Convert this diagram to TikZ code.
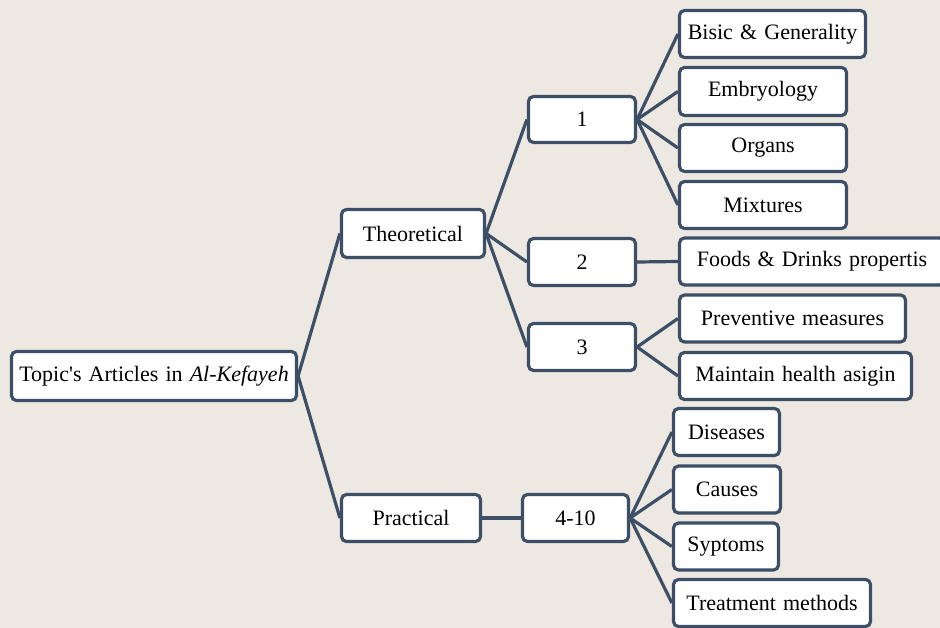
\documentclass[tikz,border=0pt]{standalone}
\usepackage{fontspec}
\setmainfont{Liberation Serif}[WordSpace=1.3]
\newfontfamily\plainserif{Liberation Serif}
\definecolor{bgc}{RGB}{237,233,226}
\definecolor{edgec}{RGB}{61,79,103}
\begin{document}
\begin{tikzpicture}[x=1pt,y=-1pt,
  box/.style={draw=edgec,fill=white,line width=3.2pt,rounded corners=5pt,
    inner sep=0pt,minimum height=#1,font=\fontsize{22}{24}\selectfont},
  box/.default=47pt,
  link/.style={draw=edgec,line width=3.2pt}]
\fill[bgc] (0,0) rectangle (940,628);
\useasboundingbox (0,0) rectangle (940,628);
% nodes
\node[box=49pt,minimum width=285pt] (root) at (154,376) {Topic{\plainserif '}s Articles in \textit{Al-Kefayeh}};
\node[box=48pt,minimum width=143pt] (theo) at (413,233.5) {Theoretical};
\node[box,minimum width=139pt] (prac) at (411,518) {Practical};
\node[box=46pt,minimum width=107pt] (n1) at (582,119.5) {1};
\node[box,minimum width=107pt] (n2) at (582,262) {2};
\node[box,minimum width=107pt] (n3) at (582,347) {3};
\node[box,minimum width=106pt] (n4) at (575.5,518) {4-10};
\node[box,minimum width=186pt] (bis) at (772.5,34) {Bisic \& Generality};
\node[box=48pt,minimum width=167pt] (emb) at (763,91.5) {Embryology};
\node[box,minimum width=167pt] (org) at (763,148) {Organs};
\node[box,minimum width=167pt] (mix) at (763,205) {Mixtures};
\node[box,minimum width=265pt] (food) at (812,261.5) {Foods \& Drinks propertis};
\node[box,minimum width=226pt] (prev) at (792.5,318.5) {Preventive measures};
\node[box,minimum width=232pt] (main) at (795.5,376) {Maintain health asigin};
\node[box,minimum width=106pt] (dis) at (726.5,432) {Diseases};
\node[box,minimum width=107pt] (cau) at (727,489.5) {Causes};
\node[box,minimum width=105pt] (syp) at (726,546.5) {Syptoms};
\node[box,minimum width=197pt] (tre) at (772,603) {Treatment methods};
% connectors
\foreach \a/\b in {root/theo,root/prac,theo/n1,theo/n2,theo/n3,prac/n4,
  n1/bis,n1/emb,n1/org,n1/mix,n2/food,n3/prev,n3/main,
  n4/dis,n4/cau,n4/syp,n4/tre}
  \draw[link] (\a.east) -- (\b.west);
\end{tikzpicture}
\end{document}
